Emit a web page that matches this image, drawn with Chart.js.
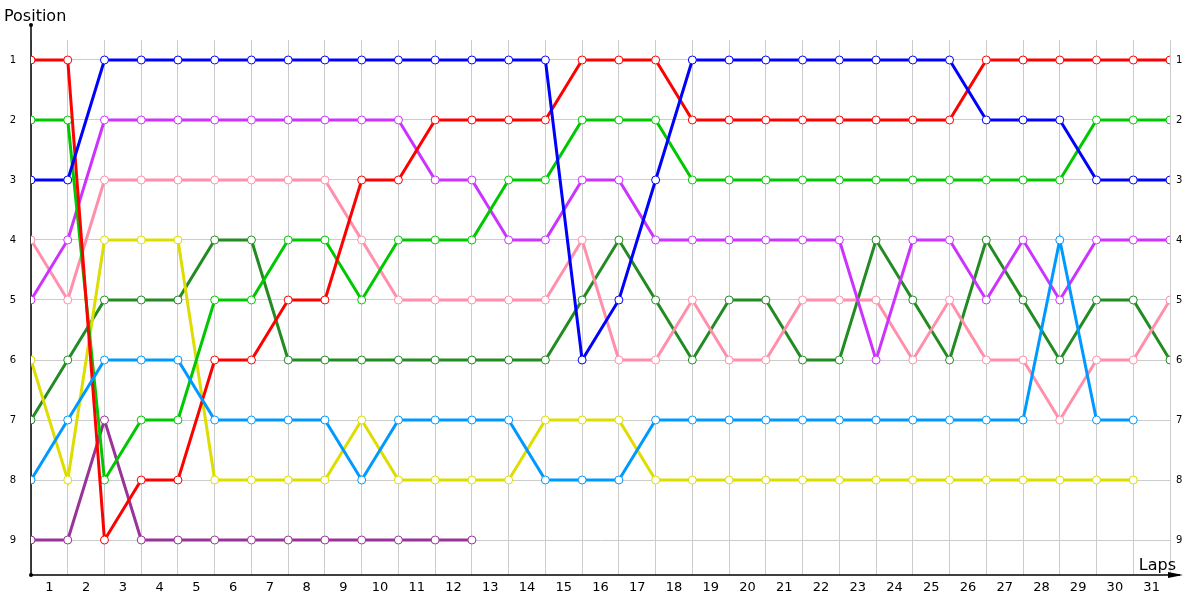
<!DOCTYPE html>
<html>
<head>
<meta charset="utf-8">
<title>Lap chart</title>
<script src="https://cdn.jsdelivr.net/npm/chart.js@4.4.0/dist/chart.umd.min.js"></script>
<style>
  html, body { margin: 0; padding: 0; background: #fff; }
  #wrap { width: 1200px; height: 600px; }
</style>
</head>
<body>
<div id="wrap"><canvas id="lapChart" width="1200" height="600"></canvas></div>
<script>
// Lap chart - position of each car at every lap boundary

const laps = [0, 1, 2, 3, 4, 5, 6, 7, 8, 9, 10, 11, 12, 13, 14, 15, 16, 17, 18, 19, 20, 21, 22, 23, 24, 25, 26, 27, 28, 29, 30, 31];
const lapLabels = ['1', '2', '3', '4', '5', '6', '7', '8', '9', '10', '11', '12', '13', '14', '15', '16',
    '17', '18', '19', '20', '21', '22', '23', '24', '25', '26', '27', '28', '29', '30', '31', ''];
const positions = [1, 2, 3, 4, 5, 6, 7, 8, 9];

// series values, one entry per lap boundary (null = retired)
const redCar       = [1, 1, 9, 8, 8, 6, 6, 5, 5, 3, 3, 2, 2, 2, 2, 1, 1, 1, 2, 2, 2, 2, 2, 2, 2, 2, 1, 1, 1, 1, 1, 1];
const greenCar     = [2, 2, 8, 7, 7, 5, 5, 4, 4, 5, 4, 4, 4, 3, 3, 2, 2, 2, 3, 3, 3, 3, 3, 3, 3, 3, 3, 3, 3, 2, 2, 2];
const blueCar      = [3, 3, 1, 1, 1, 1, 1, 1, 1, 1, 1, 1, 1, 1, 1, 6, 5, 3, 1, 1, 1, 1, 1, 1, 1, 1, 2, 2, 2, 3, 3, 3];
const violetCar    = [5, 4, 2, 2, 2, 2, 2, 2, 2, 2, 2, 3, 3, 4, 4, 3, 3, 4, 4, 4, 4, 4, 4, 6, 4, 4, 5, 4, 5, 4, 4, 4];
const pinkCar      = [4, 5, 3, 3, 3, 3, 3, 3, 3, 4, 5, 5, 5, 5, 5, 4, 6, 6, 5, 6, 6, 5, 5, 5, 6, 5, 6, 6, 7, 6, 6, 5];
const yellowCar    = [6, 8, 4, 4, 4, 8, 8, 8, 8, 7, 8, 8, 8, 8, 7, 7, 7, 8, 8, 8, 8, 8, 8, 8, 8, 8, 8, 8, 8, 8, 8, null];
const darkGreenCar = [7, 6, 5, 5, 5, 4, 4, 6, 6, 6, 6, 6, 6, 6, 6, 5, 4, 5, 6, 5, 5, 6, 6, 4, 5, 6, 4, 5, 6, 5, 5, 6];
const skyBlueCar   = [8, 7, 6, 6, 6, 7, 7, 7, 7, 8, 7, 7, 7, 7, 8, 8, 8, 7, 7, 7, 7, 7, 7, 7, 7, 7, 7, 7, 4, 7, 7, null];
const plumCar      = [9, 9, 7, 9, 9, 9, 9, 9, 9, 9, 9, 9, 9, null, null, null, null, null, null, null, null, null,
    null, null, null, null, null, null, null, null, null, null];

const colors = {
    red: '#ff0000',
    green: '#00c800',
    blue: '#0000ff',
    violet: '#cc33ff',
    pink: '#ff8fab',
    yellow: '#dddd00',
    darkGreen: '#228b22',
    skyBlue: '#0099ff',
    plum: '#993399'
};

function makeSeries(values, color) {
    return {
        data: laps.map((lap, i) => ({ x: lap, y: values[i] })),
        borderColor: color,
        backgroundColor: color,
        borderWidth: 3,
        pointRadius: 4,
        pointBorderWidth: 1,
        pointBorderColor: color,
        pointBackgroundColor: '#ffffff',
        tension: 0,
        spanGaps: false
    };
}

// axes drawn by hand: y axis with a dot on top, x axis with an arrow
const axisDecor = {
    id: 'axisDecor',
    beforeDatasetsDraw(chart) {
        const { ctx, chartArea } = chart;
        const left = chartArea.left, bottom = chartArea.bottom;
        ctx.save();
        ctx.strokeStyle = '#000';
        ctx.fillStyle = '#000';
        ctx.lineWidth = 1.5;
        ctx.beginPath();
        ctx.moveTo(left, 25);
        ctx.lineTo(left, bottom);
        ctx.lineTo(chartArea.right + 10, bottom);
        ctx.stroke();
        // dot on top of the y axis and in the corner
        ctx.beginPath();
        ctx.arc(left, 25, 2, 0, Math.PI * 2);
        ctx.fill();
        ctx.beginPath();
        ctx.arc(left, bottom, 2, 0, Math.PI * 2);
        ctx.fill();
        // arrow head
        ctx.beginPath();
        ctx.moveTo(chartArea.right + 13, bottom);
        ctx.lineTo(chartArea.right - 2, bottom - 3);
        ctx.lineTo(chartArea.right - 2, bottom + 3);
        ctx.closePath();
        ctx.fill();
        ctx.restore();
    },
    afterDraw(chart) {
        const { ctx, chartArea } = chart;
        ctx.save();
        ctx.fillStyle = '#000';
        ctx.font = '16px "DejaVu Sans"';
        ctx.textBaseline = 'alphabetic';
        ctx.textAlign = 'left';
        ctx.fillText('Position', 4, 21);
        ctx.textAlign = 'right';
        ctx.fillText('Laps', chartArea.right + 6, chartArea.bottom - 5);
        ctx.restore();
    }
};

const yScaleBase = {
    type: 'linear',
    min: 0.6667,
    max: 9.5833,
    reverse: true,
    afterBuildTicks: scale => { scale.ticks = positions.map(v => ({ value: v })); },
    border: { display: false },
    ticks: {
        color: '#000',
        font: { family: 'DejaVu Sans', size: 10 },
        callback: value => String(value)
    }
};

const chart = new Chart(document.getElementById('lapChart'), {
    type: 'line',
    data: {
        datasets: [
            makeSeries(blueCar, colors.blue),
            makeSeries(skyBlueCar, colors.skyBlue),
            makeSeries(redCar, colors.red),
            makeSeries(greenCar, colors.green),
            makeSeries(violetCar, colors.violet),
            makeSeries(yellowCar, colors.yellow),
            makeSeries(pinkCar, colors.pink),
            makeSeries(darkGreenCar, colors.darkGreen),
            makeSeries(plumCar, colors.plum)
        ]
    },
    options: {
        responsive: false,
        animation: false,
        events: [],
        layout: { padding: { top: 40, left: 0, right: 0, bottom: 0 } },
        plugins: {
            legend: { display: false },
            tooltip: { enabled: false },
            title: { display: false }
        },
        scales: {
            x: {
                type: 'linear',
                min: 0,
                max: 31,
                afterBuildTicks: scale => { scale.ticks = laps.map(v => ({ value: v })); },
                afterFit: scale => { scale.height = 25; },
                border: { display: false },
                grid: { color: '#cccccc', lineWidth: 1, drawTicks: false },
                ticks: {
                    color: '#000',
                    autoSkip: false,
                    maxRotation: 0,
                    padding: 5,
                    labelOffset: 18.37,
                    font: { family: 'DejaVu Sans', size: 13 },
                    callback: (value, index) => lapLabels[index]
                }
            },
            y: Object.assign({}, yScaleBase, {
                position: 'left',
                afterFit: scale => { scale.width = 31; },
                grid: { color: '#cccccc', lineWidth: 1, drawTicks: false },
                ticks: Object.assign({}, yScaleBase.ticks, { padding: 15 })
            }),
            y2: Object.assign({}, yScaleBase, {
                position: 'right',
                afterFit: scale => { scale.width = 30; },
                grid: { display: false, drawTicks: false },
                ticks: Object.assign({}, yScaleBase.ticks, { padding: 6 })
            })
        }
    },
    plugins: [axisDecor]
});
</script>
</body>
</html>
